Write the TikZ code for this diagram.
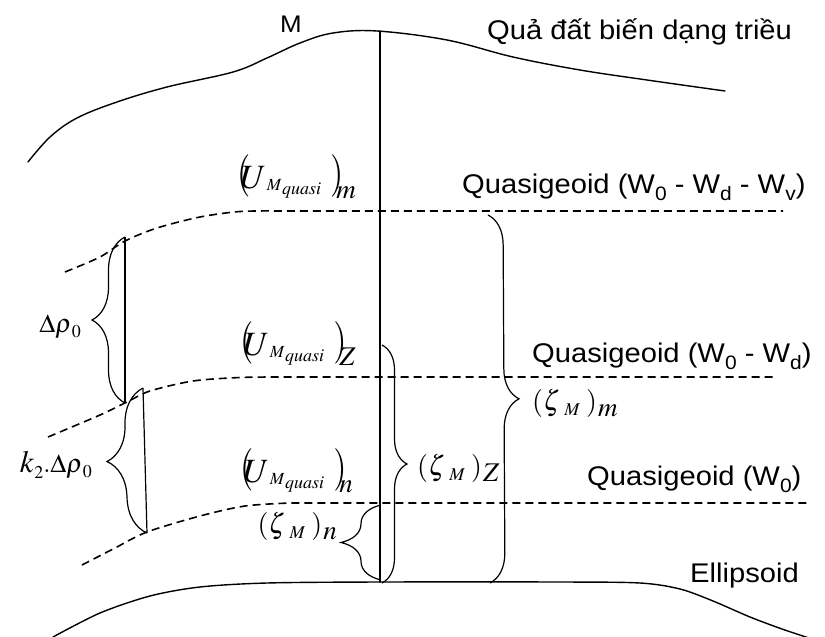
\documentclass[tikz,border=0pt]{standalone}
\usepackage{mathptmx}
\usepackage[no-math]{fontspec}
\setmainfont{Liberation Sans}
\usetikzlibrary{decorations.pathreplacing}
% broad lettering for the plain-text labels
\newcommand{\hs}[1]{\scalebox{1.08}[1]{#1}}
% lowered small index inside plain text
\newcommand{\lowsub}[1]{\raisebox{-0.28em}{\scalebox{0.72}{#1}}}
% math piece at a given size, lowered by a given amount
\newcommand{\mpiece}[3]{\raisebox{-#2}{\fontsize{#1}{#1}\selectfont$#3$}}
% tall parenthesis pair for the potential labels
\newcommand{\tallL}{\raisebox{2pt}{\scalebox{1}[1.25]{$($}}}
\newcommand{\tallR}{\raisebox{2pt}{\scalebox{1}[1.25]{$)$}}}
% (U_{M_quasi})_x
\newcommand{\Uq}[1]{\tallL\kern-10pt$U$\kern0.5pt\mpiece{17}{2pt}{M}\kern0.5pt\mpiece{18}{6pt}{quasi}\kern9pt\tallR\kern-7pt\mpiece{27}{10pt}{#1}}
% (zeta_M)_x
\newcommand{\Zq}[1]{$(\zeta$\kern4pt\mpiece{18}{5pt}{M}\kern6pt$)$\kern1pt\mpiece{27}{6pt}{#1}}
\tikzset{
  lbl/.style={inner sep=0pt, font=\fontsize{27}{32}\selectfont},
  ulbl/.style={inner sep=0pt, font=\fontsize{34}{40}\selectfont},
  zlbl/.style={inner sep=0pt, font=\fontsize{28}{32}\selectfont},
  dlbl/.style={inner sep=0pt, font=\fontsize{26}{30}\selectfont},
  surface/.style={line width=1.4pt, line cap=round},
  level/.style={line width=1.6pt, dash pattern=on 8pt off 5pt},
  thinline/.style={line width=1.2pt},
  curly/.style={line width=1.2pt, decorate, decoration={brace, amplitude=#1}},
}
\begin{document}
\begin{tikzpicture}[x=1pt, y=-1pt]
\useasboundingbox (0,0) rectangle (825,637);

% deformed Earth surface
\draw[surface] plot[smooth, tension=0.6] coordinates {(28,162) (50,137) (77,118) (117,102) (167,87) (233,72) (267,58) (300,43) (333,33) (377,31) (447,40) (513,57) (580,70) (647,80) (725,91)};

% ellipsoid
\draw[surface] plot[smooth, tension=0.5] coordinates {(53,637) (100,613) (150,596) (200,587) (267,583) (380,582) (560,582) (640,583) (680,589) (713,601) (750,617) (782,629) (815,640)};

% quasigeoid levels
\draw[level] plot[smooth] coordinates {(65,272) (100,257) (125,241) (157,228) (200,217) (240,211.5) (280,211)} -- (783,211);
\draw[level] plot[smooth] coordinates {(48,437) (100,415) (127,402) (150,391) (193,381) (240,377.5) (280,377)} -- (775,377);
\draw[level] plot[smooth] coordinates {(82,565) (115,548) (147,532) (200,516) (245,506) (290,503)} -- (808,503);

% plumb line through M
\coordinate (mtop) at (380,31);
\coordinate (mfoot) at (380,582);
\draw[surface] (mtop) -- (mfoot);

% left-hand braces
\coordinate (dA) at (125,237);
\coordinate (dB) at (125,403);
\draw[curly=33pt] (dB) -- (dA);
\draw[thinline] (dA) -- (dB);
\coordinate (kA) at (143,388);
\coordinate (kB) at (147,533);
\draw[curly=38pt] (kB) -- (kA);
\draw[thinline] (kA) -- (kB);

% height braces
\coordinate (nA) at (381,505);
\coordinate (nB) at (381,580);
\draw[curly=40pt] (nB) -- (nA);
\coordinate (zA) at (382,345);
\coordinate (zB) at (382,583);
\draw[curly=25pt] (zA) -- (zB);
\coordinate (mA) at (488,215);
\coordinate (mB) at (490,583);
\draw[curly=30pt] (mA) -- (mB);

% text labels
\node[inner sep=0pt, font=\fontsize{24}{28}\selectfont, anchor=base] (mname) at (291,32) {\hs{M}};
\node[lbl, anchor=base west] (earth) at (487,39) {\hs{Quả đất biến dạng triều}};
\node[lbl, anchor=base west] (qg3) at (462,193) {\hs{Quasigeoid (W\lowsub{0} - W\lowsub{d} - W\lowsub{v})}};
\node[lbl, anchor=base west] (qg2) at (532,362) {\hs{Quasigeoid (W\lowsub{0} - W\lowsub{d})}};
\node[lbl, anchor=base west] (qg1) at (587,485) {\hs{Quasigeoid (W\lowsub{0})}};
\node[lbl, anchor=base west] (ell) at (690,582) {\hs{Ellipsoid}};

% formula labels
\node[ulbl, anchor=base west] (um) at (237,188) {\Uq{m}};
\node[ulbl, anchor=base west] (uz) at (240,355) {\Uq{Z}};
\node[ulbl, anchor=base west] (un) at (240,482) {\Uq{n}};
\node[dlbl, anchor=base east] (drho) at (81,332) {$\Delta\rho$\mpiece{18}{5pt}{0}};
\node[dlbl, anchor=base east] (kdrho) at (92,472) {\mpiece{31}{0pt}{k}\mpiece{18}{6pt}{2}$.\Delta\rho$\mpiece{18}{5pt}{0}};
\node[zlbl, anchor=base east] (zn) at (337,533) {\Zq{n}};
\node[zlbl, anchor=base west] (zz) at (417,475) {\Zq{Z}};
\node[zlbl, anchor=base west] (zm) at (532,410) {\Zq{m}};
\end{tikzpicture}
\end{document}
